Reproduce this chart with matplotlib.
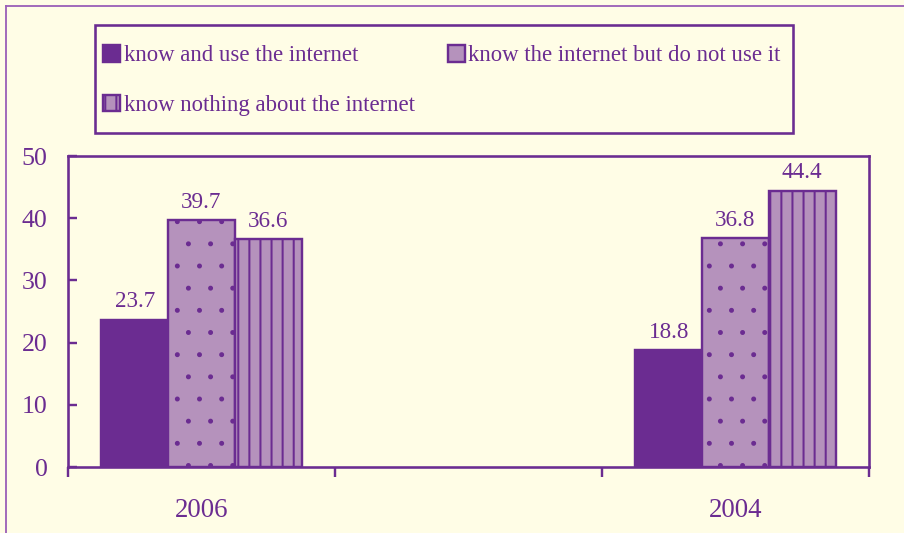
import matplotlib
matplotlib.use("Agg")
import matplotlib.pyplot as plt
import matplotlib.hatch as mhatch
from matplotlib.lines import Line2D
from matplotlib.patches import Rectangle
import numpy as np

# data (middle slot is an empty category)
years = ["2006", "", "2004"]
know_use = [23.7, np.nan, 18.8]
know_not_use = [39.7, np.nan, 36.8]
know_nothing = [36.6, np.nan, 44.4]
series_names = ["know and use the internet",
                "know the internet but do not use it",
                "know nothing about the internet"]
yticks = [0, 10, 20, 30, 40, 50]

bg = "#FFFDE6"
dark = "#6B2C91"
lilac = "#B592BC"
border = "#9C62B8"

W, H = 904, 533
dpi = 400 / 3
plt.rcParams['font.family'] = ['Liberation Serif', 'DejaVu Serif']
plt.rcParams['hatch.linewidth'] = 1.1
plt.rcParams['hatch.color'] = dark
# smaller dots than the default '.' hatch
mhatch.SmallFilledCircles.size = 0.065

fig = plt.figure(figsize=(W / dpi, (H + 0.01) / dpi), dpi=dpi, facecolor=bg)
ax = fig.add_axes([68 / W, (H - 467) / H, 801 / W, 311 / H])
ax.set_facecolor(bg)

x = np.arange(len(years))
bw = 0.25
b1 = ax.bar(x - bw, know_use, bw, color=dark, edgecolor=dark, linewidth=1.3,
            label=series_names[0])
b2 = ax.bar(x, know_not_use, bw, color=lilac, edgecolor=dark, linewidth=1.3,
            hatch='.', label=series_names[1])
b3 = ax.bar(x + bw, know_nothing, bw, color=lilac, edgecolor=dark, linewidth=1.3,
            hatch='||', label=series_names[2])

for cont in (b1, b2, b3):
    for rect in cont:
        h = rect.get_height()
        if np.isnan(h):
            continue
        ax.annotate(f"{h:.1f}", (rect.get_x() + rect.get_width() / 2, h),
                    xytext=(0, 4), textcoords="offset points",
                    ha="center", va="bottom", fontsize=12.5, color=dark)

ax.set_xlim(-0.5, len(years) - 0.5)
ax.set_ylim(0, 50)
ax.set_yticks(yticks)
ax.tick_params(axis='y', direction='in', length=4.9, width=1.3, colors=dark,
               labelsize=14, pad=11)
# x ticks sit on the category boundaries, labels in the middle
ax.set_xticks(np.arange(len(years) + 1) - 0.5)
ax.set_xticklabels([])
ax.set_xticks(x, years, minor=True)
ax.tick_params(axis='x', which='major', direction='out', length=5.4, width=1.3,
               colors=dark)
ax.tick_params(axis='x', which='minor', length=0, labelsize=14.5, pad=17,
               labelcolor=dark)
for s in ax.spines.values():
    s.set_color(dark)
    s.set_linewidth(1.4)

# legend frame drawn separately so its size matches the reference
fig.add_artist(Rectangle((95 / W, 1 - 133 / H), 698 / W, 108 / H,
                         transform=fig.transFigure, facecolor=bg,
                         edgecolor=dark, linewidth=1.4, zorder=2))
handles = [b1, b3, b2]
leg = fig.legend(handles, [h.get_label() for h in handles], ncol=2,
                 loc='upper left', bbox_to_anchor=(103 / W, 1 - 45 / H),
                 frameon=False, fontsize=12.3,
                 handlelength=0.75, handleheight=0.75, handletextpad=0.15,
                 labelspacing=1.25, columnspacing=1.45, borderpad=0,
                 borderaxespad=0, labelcolor=dark)
leg.set_zorder(3)

# page border on the left and top
fig.add_artist(Line2D([6 / W, 6 / W], [0, 1 - 6 / H], color=border, lw=1.0,
                      transform=fig.transFigure))
fig.add_artist(Line2D([6 / W, 1], [1 - 6 / H, 1 - 6 / H], color=border, lw=1.0,
                      transform=fig.transFigure))

fig.savefig("out.png", dpi=dpi, facecolor=bg)
